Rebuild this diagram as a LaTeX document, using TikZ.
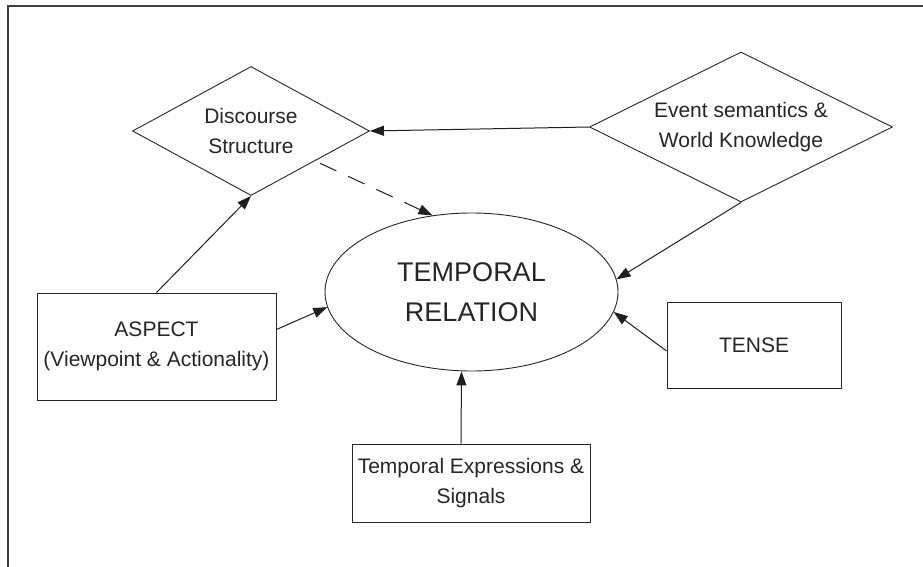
\documentclass[tikz,border=0pt]{standalone}
\usepackage{fontspec}
\setmainfont{Liberation Sans}
\usetikzlibrary{shapes.geometric,arrows.meta,calc}
\begin{document}
\begin{tikzpicture}[x=1pt,y=-1pt,
  every node/.style={inner sep=0pt, align=center, text=black!85, draw=black!85, line width=0.9pt},
  lbl/.style={font=\fontsize{21}{30}\selectfont},
  dia/.style={diamond, aspect=1.8, lbl},
  boxnode/.style={rectangle, lbl},
  arr/.style={-{Triangle[length=14pt,width=10pt]}, line width=1pt, draw=black!88},
  dashline/.style={dash pattern=on 18pt off 13pt}
]
\useasboundingbox (0,0) rectangle (923,567);
\fill[white] (0,0) rectangle (923,567);
% page frame (top and left edges)
\draw[line width=2pt, black!75] (8,567) -- (8,6) -- (923,6);

% nodes
\node[dia, minimum width=237pt, minimum height=129pt] (disc) at (251,131) {Discourse\\Structure};
\node[dia, minimum width=303pt, minimum height=150pt] (evt) at (741,127) {Event semantics \&\\World Knowledge};
\node[ellipse, minimum width=293pt, minimum height=158pt, font=\fontsize{27}{40}\selectfont] (rel) at (471.5,292) {TEMPORAL\\RELATION};
\node[boxnode, minimum width=239pt, minimum height=107pt] (asp) at (156.5,346.5) {ASPECT\\(Viewpoint \& Actionality)};
\node[boxnode, minimum width=174pt, minimum height=86pt] (tense) at (754,345) {TENSE};
\node[boxnode, minimum width=238pt, minimum height=78pt] (expr) at (471,483) {Temporal Expressions \&\\Signals};

% connectors
\draw[arr] (asp.north) -- (disc.south);
\draw[arr] ([yshift=17pt]asp.east) -- (rel.186);
\draw[arr] (evt.west) -- (disc.east);
\draw[arr, dashline] ($(disc.east)!0.42!(disc.south)+(0,5)$) -- (rel.117);
\draw[arr] (evt.south) -- (rel.5);
\draw[arr] ([yshift=-6pt]tense.west) -- (rel.-8);
\draw[arr] ([xshift=-10pt]expr.north) -- ([xshift=-10pt]rel.south);
\end{tikzpicture}
\end{document}
